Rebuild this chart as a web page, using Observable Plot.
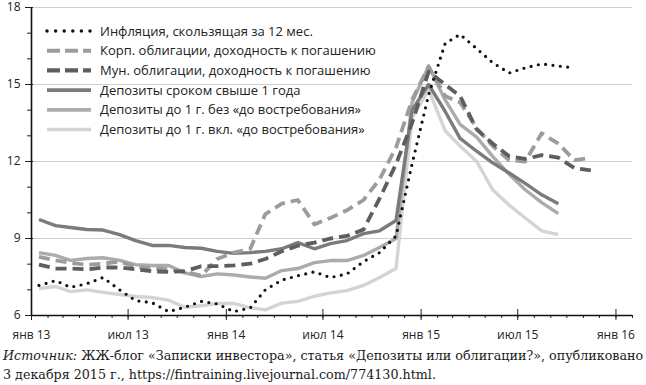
<!DOCTYPE html>
<html><head><meta charset="utf-8">
<script src="https://cdn.jsdelivr.net/npm/d3@7"></script>
<script src="https://cdn.jsdelivr.net/npm/@observablehq/plot@0.6"></script>
<style>
body{margin:0;background:#fff;}
#chart svg{display:block;}
#caption{font-family:"DejaVu Serif",serif;font-size:12.7px;line-height:18.5px;color:#1a1a1a;margin:5px 0 0 3px;white-space:nowrap;}
</style></head><body>
<div id="chart"></div>
<div id="caption"><i>Источник:</i> ЖЖ-блог «Записки инвестора», статья «Депозиты или облигации?», опубликовано<br>3 декабря 2015 г., https://fintraining.livejournal.com/774130.html.</div>
<script>
// ---- data ----
const months = ["2013-01","2013-02","2013-03","2013-04","2013-05","2013-06","2013-07","2013-08","2013-09","2013-10","2013-11","2013-12",
  "2014-01","2014-02","2014-03","2014-04","2014-05","2014-06","2014-07","2014-08","2014-09","2014-10","2014-11","2014-12",
  "2015-01","2015-02","2015-03","2015-04","2015-05","2015-06","2015-07","2015-08","2015-09","2015-10","2015-11"];

const seriesNames = [
  "Инфляция, скользящая за 12 мес.",
  "Корп. облигации, доходность к погашению",
  "Мун. облигации, доходность к погашению",
  "Депозиты сроком свыше 1 года",
  "Депозиты до 1 г. без «до востребования»",
  "Депозиты до 1 г. вкл. «до востребования»"
];

const inflation = [7.17,7.36,7.1,7.24,7.48,7.0,6.58,6.5,6.15,6.32,6.55,6.45,
  6.15,6.3,7.0,7.38,7.55,7.7,7.48,7.62,8.1,8.45,9.1,11.9,
  14.6,16.6,16.95,16.4,15.85,15.45,15.65,15.8,15.72,15.65];

const corpBonds = [8.28,8.15,8.05,7.98,8.02,8.1,7.9,7.83,7.8,7.72,7.55,8.2,
  8.45,8.6,9.95,10.36,10.5,9.55,9.8,10.1,10.5,11.3,12.55,14.4,
  15.7,14.55,14.3,13.3,12.6,12.05,12.0,13.1,12.7,12.05,12.15];

const muniBonds = [7.98,7.83,7.83,7.8,7.87,7.87,7.8,7.72,7.7,7.72,7.92,7.92,
  7.95,8.02,8.2,8.5,8.72,8.84,9.0,9.1,9.35,10.55,11.9,13.5,
  15.5,15.0,14.55,13.25,12.7,12.2,12.1,12.25,12.15,11.75,11.65];

const depLong = [9.74,9.5,9.43,9.35,9.33,9.15,8.92,8.73,8.73,8.65,8.62,8.5,
  8.42,8.45,8.5,8.6,8.84,8.6,8.8,8.92,9.19,9.3,9.7,14.0,
  15.0,13.95,12.9,12.4,11.95,11.55,11.15,10.7,10.35];

const depShortExcl = [8.45,8.34,8.15,8.22,8.25,8.15,7.98,7.95,7.95,7.66,7.52,7.62,
  7.58,7.5,7.45,7.75,7.83,8.06,8.14,8.14,8.34,8.65,9.0,14.3,
  15.72,14.4,13.45,12.95,12.2,11.5,10.9,10.4,9.97];

const depShortIncl = [7.05,7.13,6.93,7.0,6.9,6.82,6.74,6.7,6.6,6.32,6.38,6.47,
  6.47,6.3,6.22,6.48,6.55,6.75,6.88,6.97,7.17,7.48,7.83,13.7,
  14.8,13.2,12.6,12.0,10.9,10.3,9.8,9.3,9.15];

const yTicks = [6, 9, 12, 15, 18];
const yGrid = [9, 12, 15, 18];
const xTickDates = ["2013-01","2013-07","2014-01","2014-07","2015-01","2015-07","2016-01"];
const xTickLabels = ["янв 13","июл 13","янв 14","июл 14","янв 15","июл 15","янв 16"];

// ---- build ----
const parse = d3.utcParse("%Y-%m");
const toRows = vals => vals.map((v, i) => ({date: d3.utcDay.offset(parse(months[i]), 14), value: v}));
const xStart = parse("2013-01");
const xEnd = parse("2016-02");
const tickDates = xTickDates.map(parse);
const labelMap = new Map(tickDates.map((d, i) => [+d, xTickLabels[i]]));

const styles = [
  {data: inflation, stroke: "#111", strokeWidth: 3.2, dash: "0 7.4", legendDash: "0 8.6", cap: "round"},
  {data: corpBonds, stroke: "#9c9c9c", strokeWidth: 3.8, dash: "11 6", legendDash: "13 5", cap: "butt"},
  {data: muniBonds, stroke: "#5e5e5e", strokeWidth: 3.8, dash: "11 6", legendDash: "13 5", cap: "butt"},
  {data: depLong, stroke: "#7b7b7b", strokeWidth: 3.4, dash: null, legendDash: null, cap: "butt"},
  {data: depShortExcl, stroke: "#ababab", strokeWidth: 3.4, dash: null, legendDash: null, cap: "butt"},
  {data: depShortIncl, stroke: "#d4d4d4", strokeWidth: 3.4, dash: null, legendDash: null, cap: "butt"}
];
const drawOrder = [5, 4, 3, 1, 2, 0];

const lineMarks = drawOrder.map(k => {
  const s = styles[k];
  return Plot.lineY(toRows(s.data), {
    x: "date", y: "value", stroke: s.stroke, strokeWidth: s.strokeWidth,
    strokeDasharray: s.dash, strokeLinecap: s.cap, strokeLinejoin: "round"
  });
});

const chart = Plot.plot({
  width: 646, height: 342,
  marginLeft: 31, marginRight: 14, marginTop: 7, marginBottom: 27,
  style: {fontFamily: "'Open Sans', sans-serif", fontSize: "12px", color: "#222", background: "#fff"},
  x: {type: "utc", domain: [xStart, xEnd], label: null},
  y: {domain: [6, 18], label: null},
  marks: [
    Plot.ruleY(yGrid, {stroke: "#cfcfcf", strokeWidth: 1}),
    ...lineMarks,
    Plot.axisY({ticks: d3.range(6, 19), tickSize: 4, tickFormat: () => "", stroke: "#222"}),
    Plot.axisY({ticks: yTicks, tickSize: 8, dx: 2, tickPadding: 5, tickFormat: d => String(d), stroke: "#222", fill: "#222"}),
    Plot.axisX({ticks: d3.utcMonth.range(xStart, d3.utcDay.offset(xEnd, 1)), tickSize: 3, tickFormat: () => "", stroke: "#222"}),
    Plot.axisX({ticks: tickDates, tickSize: 11, dy: -6, tickPadding: 10, tickFormat: d => labelMap.get(+d), stroke: "#222", fill: "#222"}),
    Plot.ruleY([6], {stroke: "#111", strokeWidth: 1.6}),
    Plot.ruleX([xStart], {stroke: "#111", strokeWidth: 1.6})
  ]
});
document.getElementById("chart").append(chart);

// ---- legend (inside plot area, top-left) ----
const svg = d3.select(chart.tagName.toLowerCase() === "svg" ? chart : chart.querySelector("svg"));
const lg = svg.append("g")
  .attr("font-family", "'Open Sans', sans-serif")
  .attr("font-size", 13)
  .attr("text-anchor", "start")
  .attr("fill", "#222");
styles.forEach((s, i) => {
  const yy = 31 + i * 19.7;
  lg.append("line").attr("x1", 47).attr("x2", 91).attr("y1", yy).attr("y2", yy)
    .attr("stroke", s.stroke).attr("stroke-width", s.strokeWidth + 0.3)
    .attr("stroke-dasharray", s.legendDash)
    .attr("stroke-linecap", s.cap);
  lg.append("text").attr("x", 100).attr("y", yy).attr("dy", "0.35em")
    .style("text-anchor", "start").text(seriesNames[i]);
});
</script>
</body></html>
